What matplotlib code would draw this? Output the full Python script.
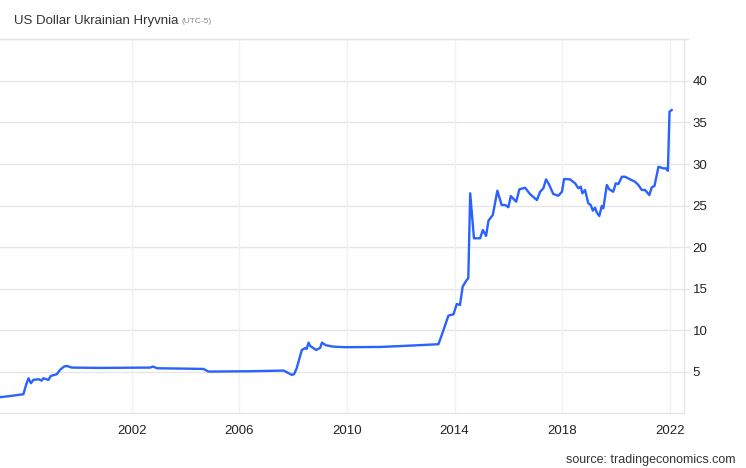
import matplotlib.pyplot as plt

plt.rcParams['font.family'] = ['Liberation Sans', 'DejaVu Sans']

# data (decimal years, UAH per USD)
years = [1997.10, 1997.53, 1997.97, 1998.07, 1998.16, 1998.25, 1998.34, 1998.53,
         1998.65, 1998.71, 1998.90, 1998.99, 1999.21, 1999.33, 1999.48, 1999.58,
         1999.77, 2000.82, 2002.68, 2002.79, 2002.94, 2004.66, 2004.85, 2006.40,
         2007.64, 2007.74, 2007.95, 2008.03, 2008.13, 2008.32, 2008.44, 2008.50,
         2008.57, 2008.63, 2008.85, 2009.00, 2009.07, 2009.22, 2009.48, 2009.93,
         2011.23, 2012.35, 2013.40,
         2013.59, 2013.77, 2013.96, 2014.08, 2014.20, 2014.30, 2014.45, 2014.51,
         2014.58, 2014.72, 2014.95, 2015.05, 2015.17, 2015.26, 2015.42, 2015.59,
         2015.75, 2015.88, 2016.00, 2016.09, 2016.29, 2016.41, 2016.62, 2016.81,
         2017.06, 2017.18, 2017.30, 2017.40, 2017.49, 2017.67, 2017.86, 2017.99,
         2018.07, 2018.29, 2018.48, 2018.60, 2018.69, 2018.75, 2018.85, 2018.97,
         2019.06, 2019.14, 2019.22, 2019.29, 2019.38, 2019.47, 2019.53, 2019.66,
         2019.75, 2019.90, 2019.99, 2020.09, 2020.22, 2020.34, 2020.52, 2020.71,
         2020.83, 2020.96, 2021.08, 2021.24, 2021.33, 2021.43, 2021.58, 2021.76,
         2021.86, 2021.93, 2021.99, 2022.07]
rate = [1.96, 2.12, 2.32, 3.44, 4.24, 3.64, 4.04, 4.12,
        3.95, 4.24, 4.04, 4.52, 4.72, 5.24, 5.64, 5.72,
        5.52, 5.48, 5.52, 5.64, 5.44, 5.36, 5.04, 5.08,
        5.16, 5.00, 4.64, 4.72, 5.44, 7.64, 7.85, 7.76,
        8.52, 8.12, 7.64, 7.88, 8.52, 8.20, 8.04, 7.97,
        8.00, 8.16, 8.33,
        10.05, 11.77, 11.93, 13.17, 13.05, 15.25, 16.06, 16.26,
        26.48, 21.07, 21.07, 22.07, 21.35, 23.19, 23.87, 26.79,
        25.07, 25.07, 24.80, 26.15, 25.47, 26.96, 27.15, 26.36,
        25.67, 26.67, 27.08, 28.16, 27.68, 26.39, 26.19, 26.67,
        28.20, 28.16, 27.68, 27.08, 27.28, 26.48, 26.88, 25.28,
        25.07, 24.39, 24.75, 24.15, 23.75, 24.95, 24.68, 27.48,
        26.96, 26.67, 27.68, 27.60, 28.47, 28.47, 28.16, 27.87,
        27.48, 26.88, 26.88, 26.27, 27.20, 27.36, 29.67, 29.48,
        29.48, 29.19, 36.29, 36.49]

x_ticks = [2002, 2006, 2010, 2014, 2018, 2022]
y_ticks = [5, 10, 15, 20, 25, 30, 35, 40]

fig = plt.figure(figsize=(7.46, 4.68), dpi=100)
ax = fig.add_axes([0.0, 0.1165, 0.9173, 0.7995])

ax.plot(years, rate, color='#2962ff', linewidth=1.7, solid_joinstyle='round')

ax.set_xlim(1997.10, 2022.54)
ax.set_ylim(0, 45)

# grid lines
for y in range(0, 50, 5):
    ax.axhline(y, color='#e6e6e6', linewidth=1, zorder=0, clip_on=False)
for x in x_ticks:
    ax.axvline(x, color='#eef1f5', linewidth=1, zorder=0)

for s in ['top', 'left', 'bottom']:
    ax.spines[s].set_visible(False)
ax.spines['right'].set_color('#e6e6e6')
ax.spines['right'].set_linewidth(1)

ax.yaxis.tick_right()
ax.set_yticks(y_ticks)
ax.set_yticklabels([str(v) for v in y_ticks])
ax.tick_params(axis='y', length=4, width=1, color='#e6e6e6', pad=2,
               labelsize=9.5, labelcolor='#222222')
ax.set_xticks(x_ticks)
ax.set_xticklabels([str(v) for v in x_ticks])
ax.tick_params(axis='x', length=0, pad=8, labelsize=9.5, labelcolor='#222222')

# top line under title
fig.add_artist(plt.Line2D([0, 688 / 746], [1 - 39.3 / 468, 1 - 39.3 / 468],
                          color='#e6e6e6', linewidth=1))

t = fig.text(14 / 746, 1 - 21 / 468, 'US Dollar Ukrainian Hryvnia',
             fontsize=9.5, color='#333333', va='center', ha='left')
fig.canvas.draw()
bb = t.get_window_extent()
fig.text((bb.x1 + 3) / 746, 1 - 21.5 / 468, '(UTC-5)', fontsize=6,
         color='#888888', va='center', ha='left')

fig.text(736 / 746, 1 - 460 / 468, 'source: tradingeconomics.com',
         fontsize=9, color='#333333', ha='right', va='center')

fig.savefig('out.png', dpi=100)
